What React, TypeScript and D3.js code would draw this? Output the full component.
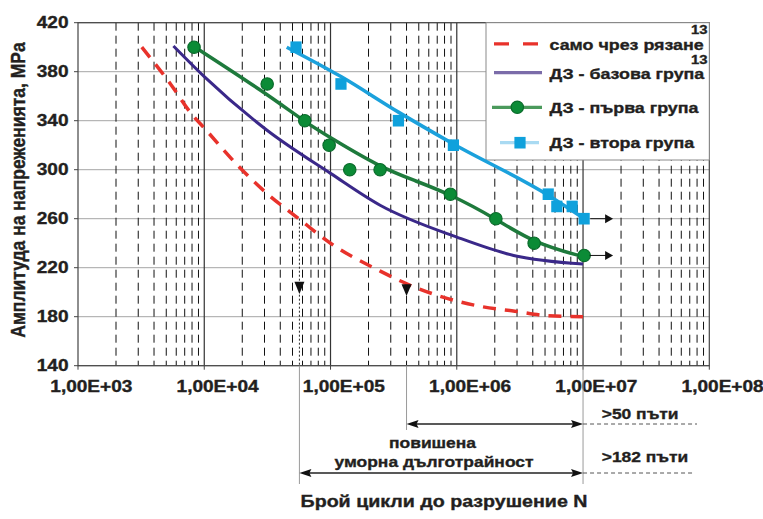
import React from 'react';
import * as d3 from 'd3';

const W = 763;
const H = 519;
const PL = 78, PR = 709.3, PT = 22.7, PB = 365.7;

// axis ticks
const xDecades = [1e3, 1e4, 1e5, 1e6, 1e7, 1e8];
const xTickLabels = ['1,00E+03', '1,00E+04', '1,00E+05', '1,00E+06', '1,00E+07', '1,00E+08'];
const yTicks = [140, 180, 220, 260, 300, 340, 380, 420];

// само чрез рязане (red dashed)
const redN = [3200, 5400, 8000, 10000, 19000, 31000, 56000, 100000, 250000, 398000, 776000, 1620000, 2880000, 5010000, 10000000];
const redS = [400, 370, 345, 334, 302, 281, 260, 240, 217, 207, 196, 188, 184.5, 181, 180];

// ДЗ - базова група (purple)
const purN = [5700, 10000, 31600, 100000, 247000, 1000000, 2818000, 10000000];
const purS = [401, 376, 332, 297, 271, 245, 230, 223];

// ДЗ - първа група (green) fit and points
const grnFitN = [7900, 31300, 62500, 100000, 247000, 468000, 887000, 2037000, 4102000, 10000000];
const grnFitS = [402, 362, 339, 326, 302, 291, 280, 260, 240, 229];
const grnPtN = [8300, 31500, 62500, 97500, 142000, 247000, 890000, 2040000, 4100000, 10200000];
const grnPtS = [400, 370, 340, 320, 300, 300, 280, 260, 240, 230];

// ДЗ - втора група (blue) fit and points
const bluFitN = [45000, 121000, 345000, 940000, 5330000, 9900000];
const bluFitS = [400, 376, 347, 321, 279, 261];
const bluPtN = [53300, 121000, 345000, 940000, 5300000, 6200000, 8200000, 10200000];
const bluPtS = [400, 370, 340, 320, 280, 270, 270, 260];

// annotations
const downArrowN = [56700, 400000];
const downArrowTip = [198.5, 197];
const downArrowBase = [208.5, 206.5];
const rightArrowS = [260, 230];
const rightArrowFrom = [11400000, 11300000];
const rightArrowTo = [17300000, 17300000];

const legendLabels = ['само чрез рязане', 'ДЗ - базова група', 'ДЗ - първа група', 'ДЗ - втора група'];

const F = "'Liberation Sans', Arial, Helvetica, sans-serif";
const SX = 1.19;
const TXT = '#231f20';

function Txt({ x, y, anchor = 'start', size = 16, sx = SX, children }: any) {
  return (
    <text
      transform={`translate(${x},${y}) scale(${sx},1)`}
      textAnchor={anchor}
      fontSize={size}
      fontWeight="bold"
      fontFamily={F}
      fill={TXT}
      stroke={TXT}
      strokeWidth={0.35}
    >
      {children}
    </text>
  );
}

export default function App() {
  const x = d3.scaleLog().domain([1e3, 1e8]).range([PL, PR]);
  const y = d3.scaleLinear().domain([140, 420]).range([PB, PT]);

  const minor: number[] = [];
  for (let d = 3; d < 8; d++) {
    for (let m = 2; m <= 9; m++) minor.push(m * Math.pow(10, d));
  }

  const lineSmooth = d3
    .line<[number, number]>()
    .x((d) => x(d[0]))
    .y((d) => y(d[1]))
    .curve(d3.curveBasis);
  const lineMono = d3
    .line<[number, number]>()
    .x((d) => x(d[0]))
    .y((d) => y(d[1]))
    .curve(d3.curveMonotoneX);

  const zip = (a: number[], b: number[]) => a.map((v, i) => [v, b[i]] as [number, number]);

  const red = lineMono(zip(redN, redS)) || '';
  const pur = lineMono(zip(purN, purS)) || '';
  const grn = lineSmooth(zip(grnFitN, grnFitS)) || '';
  const blu = lineMono(zip(bluFitN, bluFitS)) || '';

  const x5 = x(downArrowN[0]);
  const x4 = x(downArrowN[1]);
  const x7 = x(1e7);

  const arrowR = (xt: number, yt: number, len = 12, hw = 4) =>
    `M${xt},${yt} L${xt - len},${yt - hw} L${xt - len + 2},${yt} L${xt - len},${yt + hw} Z`;
  const arrowL = (xt: number, yt: number, len = 12, hw = 4) =>
    `M${xt},${yt} L${xt + len},${yt - hw} L${xt + len - 2},${yt} L${xt + len},${yt + hw} Z`;

  // legend geometry
  const LX = 486, LY = PT, LW = PR - 486, LH = 160 - PT;
  const legRowY = [43.8, 72.7, 107.3, 142.7];
  const legTextY = [50, 79.3, 113.3, 147.7];

  const upY = 424;
  const loY = 473;

  return (
    <div style={{ position: 'absolute', left: 0, top: 0 }}>
      <svg width={W} height={H} style={{ display: 'block', background: '#fff' }}>
        <rect x={0} y={0} width={W} height={H} fill="#fff" />
        {/* horizontal gridlines */}
        {yTicks.map((t) => (
          <line key={'h' + t} x1={PL} x2={PR} y1={y(t)} y2={y(t)} stroke="#a6a6a6" strokeWidth={1} />
        ))}
        {/* minor dashed verticals */}
        {minor.map((m) => (
          <line
            key={'m' + m}
            x1={x(m)}
            x2={x(m)}
            y1={PT}
            y2={PB}
            stroke="#111"
            strokeWidth={1}
            strokeDasharray="8,5"
          />
        ))}
        {/* decade verticals */}
        {xDecades.slice(1, 5).map((d) => (
          <line key={'d' + d} x1={x(d)} x2={x(d)} y1={PT} y2={PB} stroke="#333" strokeWidth={1.2} />
        ))}
        {/* border */}
        <rect x={PL} y={PT} width={PR - PL} height={PB - PT} fill="none" stroke="#444" strokeWidth={1.2} />
        {/* ticks */}
        {yTicks.map((t) => (
          <line key={'yt' + t} x1={PL - 4} x2={PL} y1={y(t)} y2={y(t)} stroke="#444" strokeWidth={1} />
        ))}
        {xDecades.map((d) => (
          <line key={'xt' + d} x1={x(d)} x2={x(d)} y1={PB} y2={PB + 4} stroke="#444" strokeWidth={1} />
        ))}

        {/* legend box */}
        <rect x={LX} y={LY} width={LW} height={LH} fill="#fff" stroke="#8a8a8a" strokeWidth={1} />

        {/* annotation: dotted drop line */}
        <line x1={x5} x2={x5} y1={y(260)} y2={PB} stroke="#111" strokeWidth={0.9} strokeDasharray="2,2" />

        {/* curves */}
        <path d={red} fill="none" stroke="#e8322b" strokeWidth={3.5} strokeDasharray="13,9" />
        <path d={pur} fill="none" stroke="#3a2889" strokeWidth={3} />
        <path d={grn} fill="none" stroke="#1e7a3c" strokeWidth={3.5} />
        <path d={blu} fill="none" stroke="#1ba1dc" strokeWidth={3.5} />

        {/* markers */}
        {zip(grnPtN, grnPtS).map((p, i) => (
          <circle key={'g' + i} cx={x(p[0])} cy={y(p[1])} r={6.2} fill="#0b8b36" stroke="#0a6b2b" strokeWidth={1.2} />
        ))}
        {zip(bluPtN, bluPtS).map((p, i) => (
          <rect key={'b' + i} x={x(p[0]) - 5.6} y={y(p[1]) - 5.8} width={11.2} height={11.6} fill="#0fa1dc" />
        ))}

        {/* down arrows */}
        {downArrowN.map((n, i) => {
          const cx = x(n);
          const yt = y(downArrowTip[i]);
          const yb = y(downArrowBase[i]);
          return <path key={'da' + i} d={`M${cx},${yt} L${cx - 5},${yb} L${cx + 5},${yb} Z`} fill="#111" />;
        })}
        {/* right arrows */}
        {rightArrowS.map((s, i) => {
          const x0 = x(rightArrowFrom[i]);
          const x1 = x(rightArrowTo[i]);
          const yy = y(s);
          return (
            <g key={'ra' + i}>
              <line x1={x0} x2={x1 - 6} y1={yy} y2={yy} stroke="#111" strokeWidth={1} />
              <path d={`M${x1},${yy} L${x1 - 8},${yy - 4.5} L${x1 - 8},${yy + 4.5} Z`} fill="#111" />
            </g>
          );
        })}

        {/* legend entries */}
        <line x1={494} x2={542} y1={legRowY[0]} y2={legRowY[0]} stroke="#e8322b" strokeWidth={3.3} strokeDasharray="15,14" />
        <line x1={494} x2={542} y1={legRowY[1]} y2={legRowY[1]} stroke="#7b6ca9" strokeWidth={3.3} />
        <line x1={492} x2={542} y1={legRowY[2]} y2={legRowY[2]} stroke="#4b9a5c" strokeWidth={3.3} />
        <circle cx={517.3} cy={legRowY[2]} r={6.2} fill="#0b8b36" stroke="#0a6b2b" strokeWidth={1.2} />
        <line x1={500} x2={539} y1={legRowY[3]} y2={legRowY[3]} stroke="#a9daf2" strokeWidth={3.3} />
        <rect x={520 - 5.6} y={legRowY[3] - 5.8} width={11.2} height={11.6} fill="#0fa1dc" />
        {legendLabels.map((l, i) => (
          <Txt key={'lt' + i} x={549.5} y={legTextY[i]} size={15.4} sx={1.16}>
            {l}
          </Txt>
        ))}
        <Txt x={707.5} y={34} anchor="end" size={12.5}>13</Txt>
        <Txt x={707.5} y={64} anchor="end" size={12.5}>13</Txt>

        {/* y tick labels */}
        {yTicks.map((t) => (
          <Txt key={'yl' + t} x={68.5} y={y(t) + 5.7} anchor="end" size={16}>
            {String(t)}
          </Txt>
        ))}
        {/* x tick labels */}
        {xDecades.map((d, i) => (
          <Txt key={'xl' + d} x={x(d) + 13.3} y={391.5} anchor="middle" size={16}>
            {xTickLabels[i]}
          </Txt>
        ))}

        {/* axis titles */}
        <text
          transform={`translate(24.5,190) scale(${SX},1) rotate(-90)`}
          textAnchor="middle"
          fontSize={17.5}
          fontWeight="bold"
          fontFamily={F}
          fill={TXT}
          stroke={TXT}
          strokeWidth={0.35}
        >
          Амплитуда на напреженията, MPa
        </text>
        <Txt x={444} y={507} anchor="middle" size={16.5}>
          Брой цикли до разрушение N
        </Txt>

        {/* bottom annotations */}
        <line x1={x5} x2={x5} y1={PB} y2={484} stroke="#9a9a9a" strokeWidth={1} />
        <line x1={x4} x2={x4} y1={PB} y2={430} stroke="#9a9a9a" strokeWidth={1} />
        <line x1={x7} x2={x7} y1={PB} y2={484} stroke="#9a9a9a" strokeWidth={1} />

        <line x1={x4 + 6} x2={x7 - 6} y1={upY} y2={upY} stroke="#222" strokeWidth={1.5} />
        <path d={arrowL(x4, upY)} fill="#111" />
        <path d={arrowR(x7, upY)} fill="#111" />
        <line x1={x5 + 6} x2={x7 - 6} y1={loY} y2={loY} stroke="#222" strokeWidth={1.5} />
        <path d={arrowL(x5, loY)} fill="#111" />
        <path d={arrowR(x7, loY)} fill="#111" />

        <line x1={x7} x2={697} y1={upY} y2={upY} stroke="#555" strokeWidth={1} strokeDasharray="4,3" />
        <line x1={x7} x2={694} y1={loY} y2={loY} stroke="#555" strokeWidth={1} strokeDasharray="4,3" />

        <Txt x={601.7} y={419.3} size={15.3} sx={1.14}>{'>50 пъти'}</Txt>
        <Txt x={601.7} y={461.7} size={15.3} sx={1.14}>{'>182 пъти'}</Txt>
        <Txt x={432.5} y={448.3} anchor="middle" size={15.3} sx={1.14}>повишена</Txt>
        <Txt x={434} y={466.7} anchor="middle" size={15.3} sx={1.14}>уморна дълготрайност</Txt>
      </svg>
    </div>
  );
}
